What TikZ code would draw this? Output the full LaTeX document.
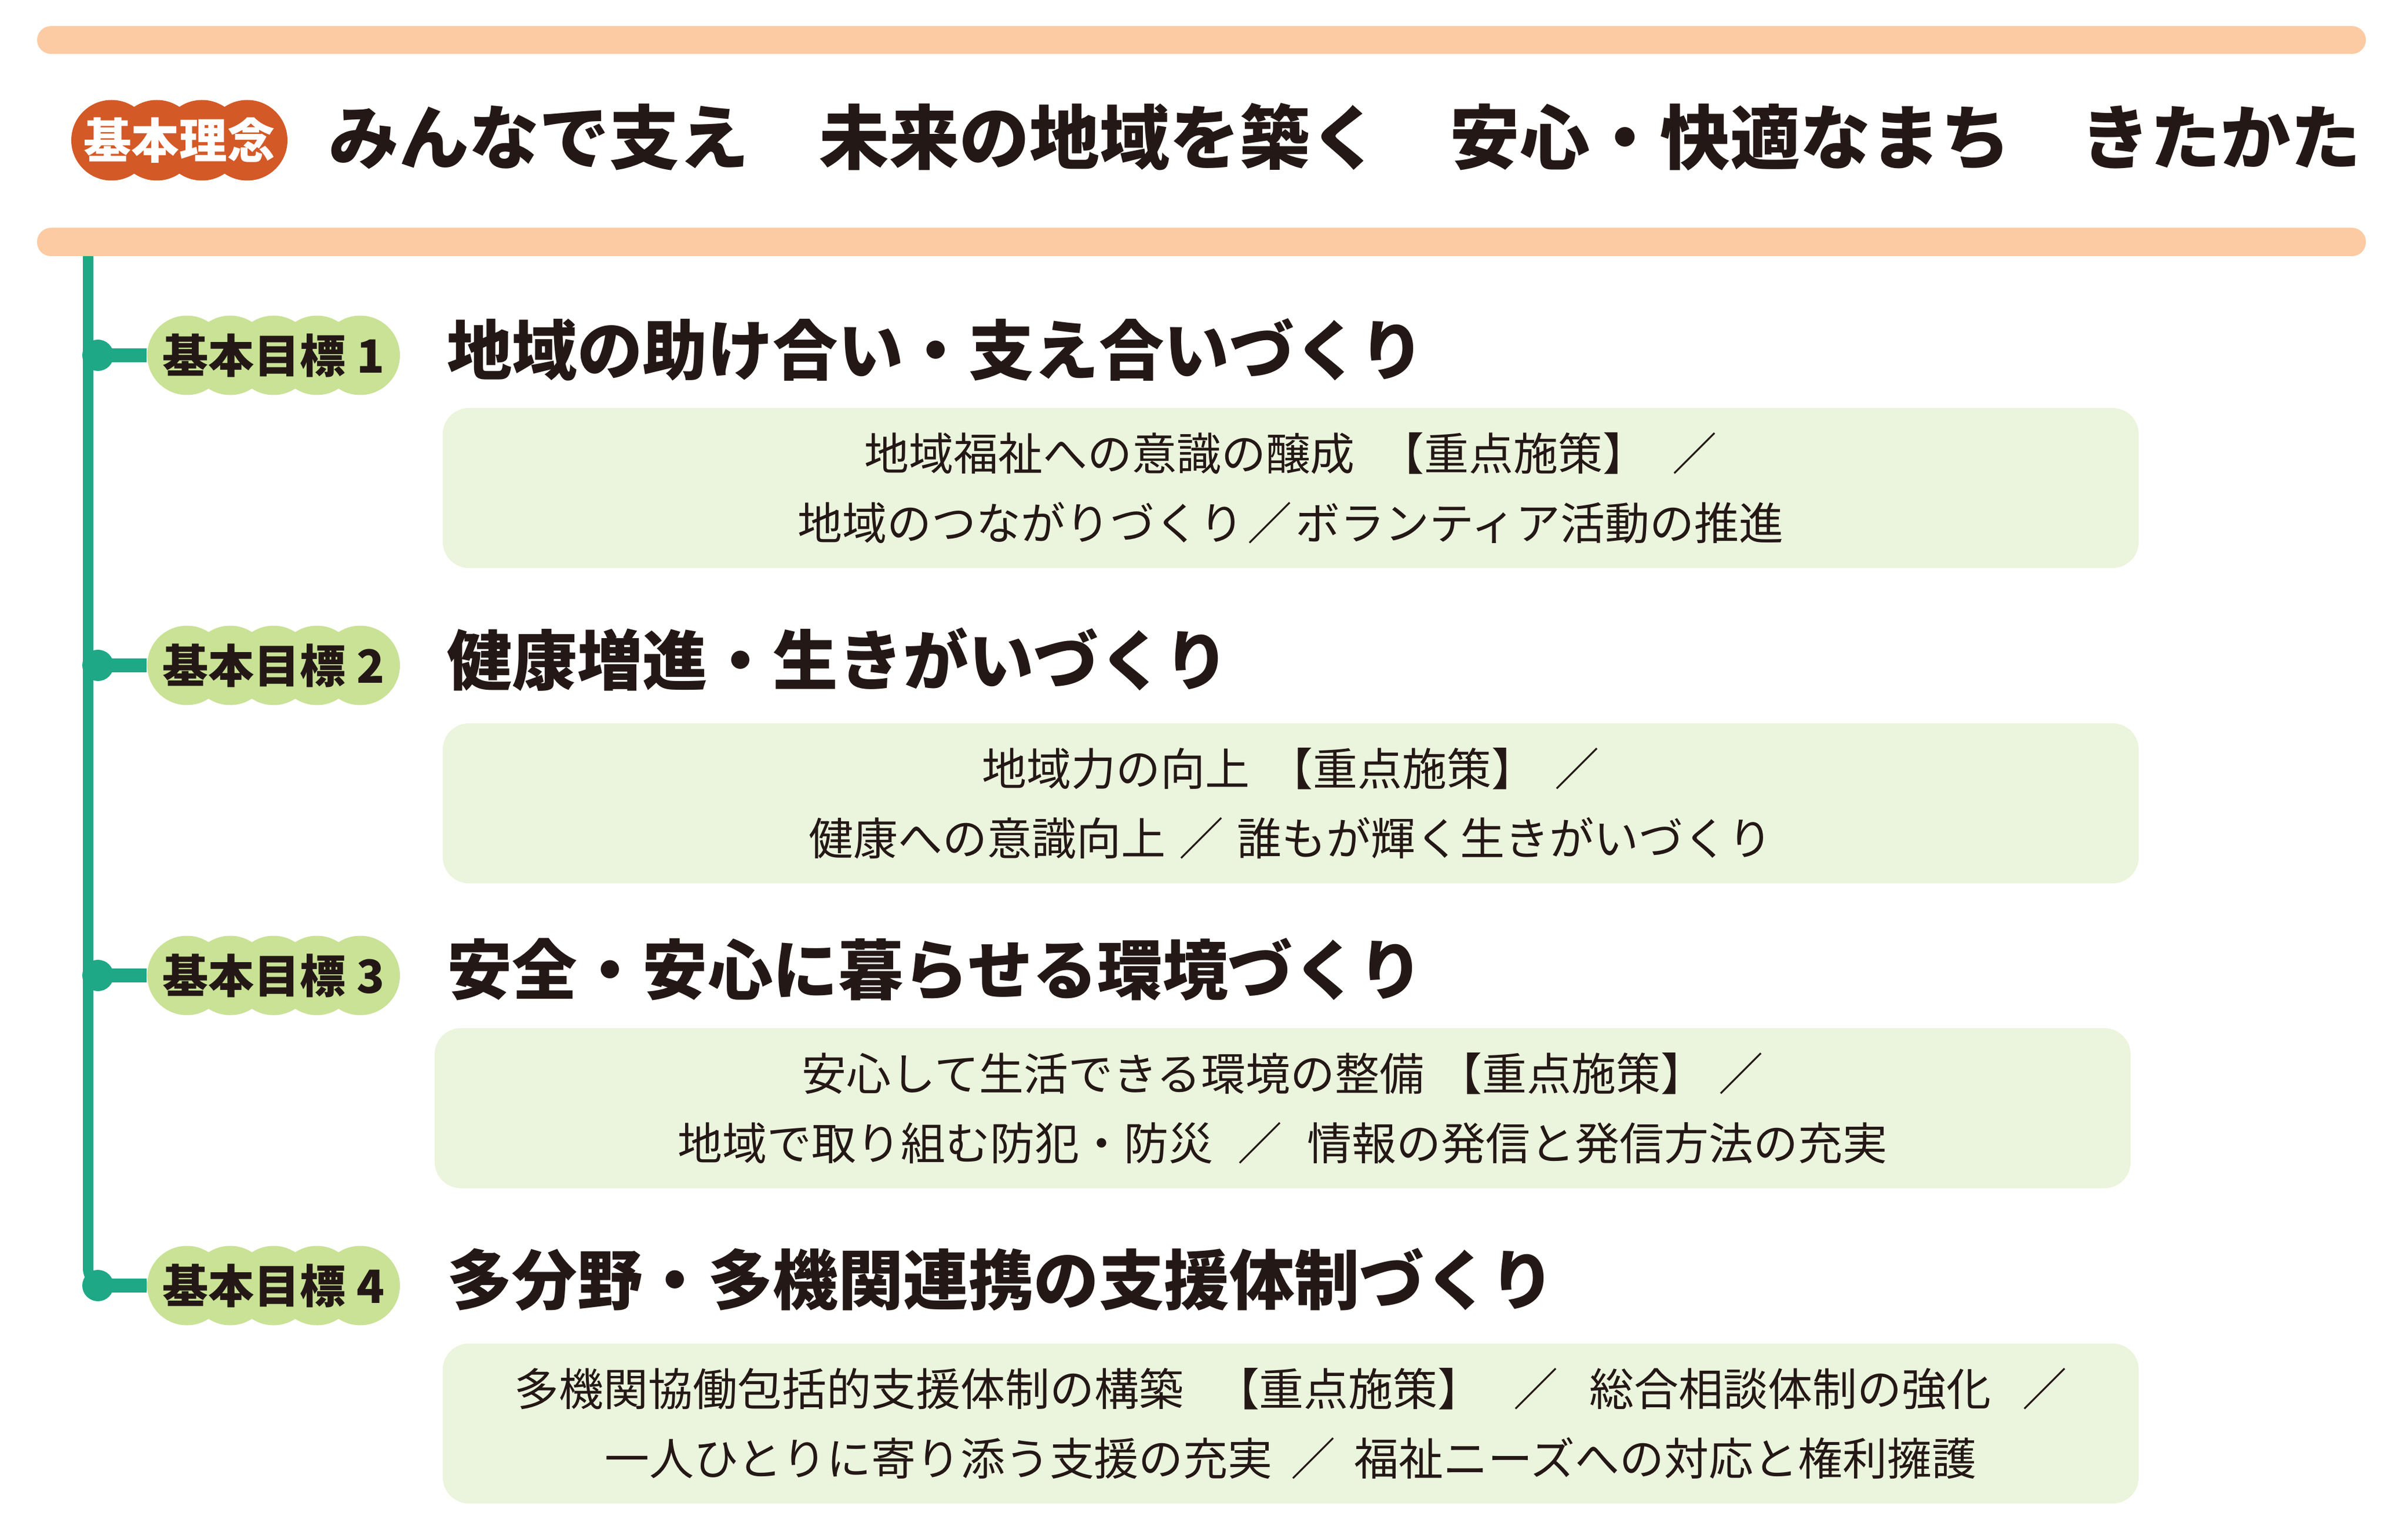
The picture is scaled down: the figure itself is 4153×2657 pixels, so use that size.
\documentclass[tikz,border=0pt]{standalone}
\usepackage{fontspec}
\setmainfont{Noto Sans CJK JP}
\usetikzlibrary{positioning,calc}
\definecolor{peach}{RGB}{252,203,164}
\definecolor{rinenorange}{RGB}{211,89,39}
\definecolor{trunkgreen}{RGB}{30,168,134}
\definecolor{badgegreen}{RGB}{201,226,150}
\definecolor{boxgreen}{RGB}{235,244,220}
\definecolor{ink}{RGB}{35,24,21}
\begin{document}
\begin{tikzpicture}[x=0.1mm,y=-0.1mm,
  bar/.style={fill=peach,rounded corners=2.4mm},
  trunk/.style={draw=trunkgreen,line width=1.8mm},
  branch/.style={draw=trunkgreen,line width=2.4mm},
  badge/.style={minimum width=43.6mm,minimum height=13.7mm,inner sep=0,text=ink,
    font=\bfseries\fontsize{22.5pt}{22.5pt}\selectfont},
  heading/.style={anchor=west,inner sep=0,text=ink,
    font=\bfseries\fontsize{32pt}{32pt}\selectfont},
  itembox/.style={fill=boxgreen,rounded corners=4.5mm,minimum width=292.6mm,
    minimum height=27.6mm,inner sep=0,align=center,text=ink,
    font=\fontsize{21.9pt}{34.1pt}\selectfont}]
\useasboundingbox (0,0) rectangle (4153,2657);
% bars
\fill[bar] (64,45) rectangle (4082,93);
\fill[bar] (64,393) rectangle (4082,442);
% basic idea
\foreach \i in {0,...,3} \fill[rinenorange] (192.5+\i*78,242) circle[radius=6.95mm];
\node[badge,minimum width=37.3mm,minimum height=13.9mm,text=white,
  font=\bfseries\fontsize{23.5pt}{23.5pt}\selectfont] (rinen) at (309.5,242) {基本理念};
\node[heading,font=\bfseries\fontsize{34.4pt}{34.4pt}\selectfont,right=7mm of rinen,yshift=0.6mm] (motto)
  {みんなで支え　未来の地域を築く　安心・快適なまち　きたかた};
% goal badges
\foreach \y in {613,1148,1683,2218}
  \foreach \i in {0,...,4}
    \fill[badgegreen] (322.5+\i*74.75,\y) circle[radius=6.85mm];
\node[badge] (g1) at (472,613) {基本目標 1};
\node[badge] (g2) at (472,1148) {基本目標 2};
\node[badge] (g3) at (472,1683) {基本目標 3};
\node[badge] (g4) at (472,2218) {基本目標 4};
% trunk and branches
\coordinate (trunktop) at (152,442);
\draw[trunk,rounded corners=3mm] (trunktop) |- (g4.west);
\foreach \g in {g1,g2,g3,g4}{
  \draw[branch] (trunktop |- \g.west) -- (\g.west);
  \fill[trunkgreen] ($(trunktop |- \g.west)+(17,0)$) circle[radius=2.7mm];
}
% headings
\node[heading,right=8mm of g1,yshift=1mm] (h1) {地域の助け合い・支え合いづくり};
\node[heading,right=8mm of g2,yshift=1mm] (h2) {健康増進・生きがいづくり};
\node[heading,right=8mm of g3,yshift=1mm] (h3) {安全・安心に暮らせる環境づくり};
\node[heading,right=8mm of g4,yshift=1mm] (h4) {多分野・多機関連携の支援体制づくり};
% measures
\node[itembox] (b1) at (2227,842)
  {地域福祉への意識の醸成\hspace{4.3mm}【重点施策】\hspace{4.3mm}／\\地域のつながりづくり\hspace{0.6mm}／\hspace{0.6mm}ボランティア活動の推進};
\node[itembox] (b2) at (2227,1386)
  {地域力の向上\hspace{3.2mm}【重点施策】\hspace{3.2mm}／\\健康への意識向上\hspace{2.3mm}／\hspace{2.3mm}誰もが輝く生きがいづくり};
\node[itembox] (b3) at (2213,1912)
  {安心して生活できる環境の整備\hspace{2.3mm}【重点施策】\hspace{2.3mm}／\\地域で取り組む防犯・防災\hspace{4.3mm}／\hspace{4.3mm}情報の発信と発信方法の充実};
\node[itembox] (b4) at (2227,2456)
  {多機関協働包括的支援体制の構築\hspace{5.4mm}【重点施策】\hspace{5.4mm}／\hspace{5.4mm}総合相談体制の強化\hspace{5.4mm}／\\一人ひとりに寄り添う支援の充実\hspace{3.2mm}／\hspace{3.2mm}福祉ニーズへの対応と権利擁護};
\end{tikzpicture}
\end{document}
